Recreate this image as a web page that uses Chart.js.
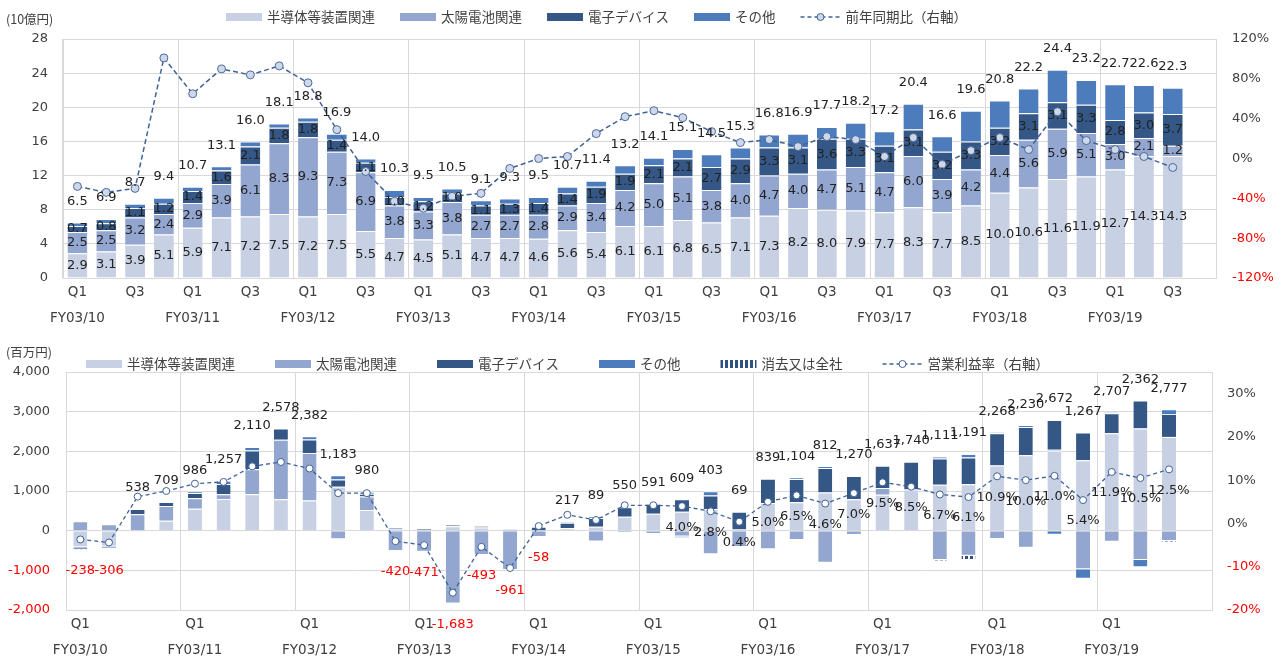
<!DOCTYPE html>
<html>
<head>
<meta charset="utf-8">
<script src="https://cdn.jsdelivr.net/npm/chart.js@4.4.1/dist/chart.umd.min.js"></script>
<style>
  body { margin: 0; background: #fff; }
  #top, #bottom { position: absolute; left: 0; }
  #top { top: 0; }
  #bottom { top: 330px; }
</style>
</head>
<body>
<canvas id="top" width="1285" height="330"></canvas>
<canvas id="bottom" width="1285" height="331"></canvas>
<script>
// 会計年度と四半期（FY03/19 Q4 は空欄）
const fiscalYears = ['FY03/10', 'FY03/11', 'FY03/12', 'FY03/13', 'FY03/14', 'FY03/15', 'FY03/16', 'FY03/17', 'FY03/18', 'FY03/19'];
const quarters = ['Q1', 'Q2', 'Q3', 'Q4'];

// 売上高（10億円）
const semiSales  = [2.9, 3.1, 3.9, 5.1, 5.9, 7.1, 7.2, 7.5, 7.2, 7.5, 5.5, 4.7, 4.5, 5.1, 4.7, 4.7, 4.6, 5.6, 5.4, 6.1, 6.1, 6.8, 6.5, 7.1, 7.3, 8.2, 8.0, 7.9, 7.7, 8.3, 7.7, 8.5, 10.0, 10.6, 11.6, 11.9, 12.7, 14.3, 14.3];
const solarSales = [2.5, 2.5, 3.2, 2.4, 2.9, 3.9, 6.1, 8.3, 9.3, 7.3, 6.9, 3.8, 3.3, 3.8, 2.7, 2.7, 2.8, 2.9, 3.4, 4.2, 5.0, 5.1, 3.8, 4.0, 4.7, 4.0, 4.7, 5.1, 4.7, 6.0, 3.9, 4.2, 4.4, 5.6, 5.9, 5.1, 3.0, 2.1, 1.2];
const elecSales  = [0.7, 0.8, 1.1, 1.2, 1.4, 1.6, 2.1, 1.8, 1.8, 1.4, 1.1, 1.0, 1.2, 1.0, 1.1, 1.3, 1.4, 1.4, 1.9, 1.9, 2.1, 2.1, 2.7, 2.9, 3.3, 3.1, 3.6, 3.3, 3.1, 3.1, 3.2, 3.3, 3.2, 3.1, 3.1, 3.3, 2.8, 3.0, 3.7];
const otherSales = [0.4, 0.5, 0.5, 0.7, 0.5, 0.5, 0.6, 0.5, 0.5, 0.7, 0.5, 0.8, 0.5, 0.6, 0.6, 0.6, 0.7, 0.8, 0.7, 1.0, 0.9, 1.1, 1.5, 1.3, 1.5, 1.6, 1.4, 1.9, 1.7, 3.0, 1.8, 3.6, 3.2, 2.9, 3.8, 2.9, 4.2, 3.2, 3.1];
const totalSales = [6.5, 6.9, 8.7, 9.4, 10.7, 13.1, 16.0, 18.1, 18.8, 16.9, 14.0, 10.3, 9.5, 10.5, 9.1, 9.3, 9.5, 10.7, 11.4, 13.2, 14.1, 15.1, 14.5, 15.3, 16.8, 16.9, 17.7, 18.2, 17.2, 20.4, 16.6, 19.6, 20.8, 22.2, 24.4, 23.2, 22.7, 22.6, 22.3];
const salesYoY   = [-28, -34, -30, 101, 65, 90, 84, 93, 76, 29, -13, -43, -50, -38, -35, -10, 0, 2, 25, 42, 48, 41, 27, 16, 19, 12, 22, 19, 2, 21, -6, 8, 21, 9, 47, 18, 9, 2, -9];

// 営業利益（百万円）
const semiOp  = [-420, -400, 10, 250, 555, 800, 918, 790, 760, 1110, 520, 50, 20, 110, 80, 0, 0, 60, 100, 350, 426, 479, 545, 30, 700, 715, 962, 790, 905, 1040, 1160, 1170, 1643, 1900, 2012, 1777, 2457, 2575, 2364];
const solarOp = [240, 160, 405, 370, 265, 118, 630, 1500, 1200, -217, 340, -510, -531, -1833, -613, -991, -158, 7, -270, -50, -85, -150, -592, -411, -471, -235, -810, -110, 170, 0, -740, -630, -210, -430, 30, -975, -280, -740, -260];
const elecOp  = [-20, -20, 130, 100, 130, 260, 470, 288, 340, 180, 70, 0, 40, 40, 40, 30, 100, 130, 220, 240, 250, 310, 340, 450, 610, 590, 620, 590, 562, 700, 660, 675, 810, 715, 750, 700, 505, 707, 580];
const otherOp = [-30, -40, -7, -11, 36, 79, 92, 0, 82, 110, 50, 40, 0, 0, 0, 0, 0, 20, 39, 10, 0, -30, 110, 0, 0, 34, 40, 0, 0, 0, 50, 85, 25, 45, -100, -235, 25, -180, 118];
const elimOp  = [-8, -6, 0, 0, 0, 0, 0, 0, 0, 0, 0, 0, 0, 0, 0, 0, 0, 0, 0, 0, 0, 0, 0, 0, 0, 0, 0, 0, 0, 0, -19, -109, 0, 0, -20, 0, 0, 0, -25];
const totalOp = [-238, -306, 538, 709, 986, 1257, 2110, 2578, 2382, 1183, 980, -420, -471, -1683, -493, -961, -58, 217, 89, 550, 591, 609, 403, 69, 839, 1104, 812, 1270, 1637, 1740, 1111, 1191, 2268, 2230, 2672, 1267, 2707, 2362, 2777];
const opMargin = [-3.7, -4.4, 6.2, 7.5, 9.2, 9.6, 13.2, 14.2, 12.7, 7.0, 7.0, -4.1, -5.0, -16.0, -5.4, -10.3, -0.6, 2.0, 0.8, 4.2, 4.2, 4.0, 2.8, 0.4, 5.0, 6.5, 4.6, 7.0, 9.5, 8.5, 6.7, 6.1, 10.9, 10.0, 11.0, 5.4, 11.9, 10.5, 12.5];

const categories = [];
fiscalYears.forEach(fy => quarters.forEach(q => categories.push(fy + ' ' + q)));

const C_SEMI = '#c8d0e4', C_SOLAR = '#92a6cf', C_ELEC = '#345786', C_OTHER = '#4c7cbb';
const C_LINE = '#3f6297', GRID = '#d9d9d9', TXT = '#404040', RED = '#ff0000';
const NUM_FONT = 'DejaVu Sans';
const JP_FONT = '"Noto Sans CJK JP", "Noto Sans", sans-serif';

function stripes() {
  const c = document.createElement('canvas');
  c.width = 5; c.height = 4;
  const g = c.getContext('2d');
  g.fillStyle = '#2f5283';
  g.fillRect(0, 0, 3, 4);
  return g.createPattern(c, 'repeat');
}

function drawLegend(chart, startX, cy, gap, unit, unitY) {
  const ctx = chart.ctx;
  ctx.save();
  ctx.textBaseline = 'middle';
  ctx.font = '12.5px ' + JP_FONT;
  ctx.fillStyle = TXT;
  ctx.fillText(unit, 6, unitY);
  ctx.font = '13.5px ' + JP_FONT;
  let x = startX;
  chart.data.datasets.forEach(ds => {
    if (ds.type === 'line') {
      ctx.strokeStyle = ds.borderColor;
      ctx.lineWidth = 1.5;
      ctx.setLineDash([4, 3]);
      ctx.beginPath(); ctx.moveTo(x, cy); ctx.lineTo(x + 40, cy); ctx.stroke();
      ctx.setLineDash([]);
      ctx.beginPath(); ctx.arc(x + 20, cy, 3.5, 0, Math.PI * 2);
      ctx.fillStyle = ds.pointBackgroundColor; ctx.fill();
      ctx.lineWidth = 1; ctx.stroke();
      x += 40;
    } else {
      ctx.fillStyle = ds.backgroundColor;
      ctx.fillRect(x, cy - 4, 36, 8);
      x += 36;
    }
    x += 5;
    ctx.fillStyle = TXT;
    ctx.fillText(ds.label, x, cy);
    x += ctx.measureText(ds.label).width + gap;
  });
  ctx.restore();
}

// 積み上げ棒の上（負なら下）に合計値
function drawTotals(chart, totals, fmt) {
  const ctx = chart.ctx, y = chart.scales.y;
  const bars = chart.data.datasets.map((d, i) => i).filter(i => chart.data.datasets[i].type !== 'line');
  ctx.save();
  ctx.font = '13px ' + NUM_FONT;
  ctx.textAlign = 'center';
  ctx.textBaseline = 'middle';
  totals.forEach((v, i) => {
    let pos = 0, neg = 0;
    bars.forEach(k => {
      const r = chart.data.datasets[k].data[i];
      if (r > 0) pos += r; else neg += r;
    });
    const x = chart.getDatasetMeta(bars[0]).data[i].x;
    if (v >= 0) {
      ctx.fillStyle = '#222';
      ctx.fillText(fmt(v), x, y.getPixelForValue(pos) - 21);
    } else {
      ctx.fillStyle = RED;
      ctx.fillText(fmt(v), x, y.getPixelForValue(neg) + 21);
    }
  });
  ctx.restore();
}

const barBorder = { top: 1, bottom: 1, left: 0, right: 0 };

function xAxis(showQ3, tickPad) {
  return {
    stacked: true,
    grid: { color: c => c.index % 4 === 0 ? GRID : 'rgba(0,0,0,0)', drawTicks: false },
    border: { color: GRID },
    ticks: {
      autoSkip: false, maxRotation: 0, padding: tickPad, color: TXT,
      font: { family: NUM_FONT, size: 13.5, lineHeight: 26 / 13.5 },
      callback: (v, i) => {
        const q = i % 4;
        if (q === 0) return ['Q1', fiscalYears[Math.floor(i / 4)]];
        if (q === 2 && showQ3) return ['Q3', ''];
        return ['', ''];
      }
    }
  };
}

// ---- 上段：売上高 ----
new Chart(document.getElementById('top'), {
  type: 'bar',
  data: {
    labels: categories,
    datasets: [
      { label: '半導体等装置関連', data: semiSales, backgroundColor: C_SEMI },
      { label: '太陽電池関連', data: solarSales, backgroundColor: C_SOLAR },
      { label: '電子デバイス', data: elecSales, backgroundColor: C_ELEC },
      { label: 'その他', data: otherSales, backgroundColor: C_OTHER },
      {
        type: 'line', label: '前年同期比（右軸）', data: salesYoY, yAxisID: 'y1', order: 1,
        borderColor: C_LINE, borderWidth: 1.5, borderDash: [5, 3],
        pointRadius: 4, pointBackgroundColor: '#cfd8ea', pointBorderColor: '#4a6a9c', pointBorderWidth: 1
      }
    ].map(d => d.type ? d : Object.assign(d, {
      order: 2, barPercentage: 0.69, categoryPercentage: 1,
      borderColor: '#fff', borderWidth: barBorder, borderSkipped: 'start'
    }))
  },
  options: {
    responsive: false, animation: false, devicePixelRatio: 1,
    layout: { padding: { top: 39, left: 0, right: 0, bottom: 0 } },
    plugins: { legend: { display: false }, tooltip: { enabled: false } },
    scales: {
      x: Object.assign(xAxis(true, 1.5), { afterFit: s => { s.height = 52; } }),
      y: {
        stacked: true, min: 0, max: 28,
        afterFit: s => { s.width = 63; },
        grid: { color: GRID, drawTicks: false }, border: { color: GRID },
        ticks: { stepSize: 4, padding: 15, color: TXT, font: { family: NUM_FONT, size: 13 } }
      },
      y1: {
        position: 'right', min: -120, max: 120,
        afterFit: s => { s.width = 69; },
        grid: { display: false, drawTicks: false }, border: { color: GRID },
        ticks: {
          stepSize: 40, padding: 16, font: { family: NUM_FONT, size: 13 },
          color: c => c.tick.value < 0 ? RED : TXT,
          callback: v => v + '%'
        }
      }
    }
  },
  plugins: [{
    id: 'topDecor',
    afterDatasetsDraw(chart) {
      const ctx = chart.ctx;
      ctx.save();
      ctx.font = '13px ' + NUM_FONT;
      ctx.fillStyle = '#222';
      ctx.textAlign = 'center';
      ctx.textBaseline = 'middle';
      [0, 1, 2].forEach(k => {
        chart.getDatasetMeta(k).data.forEach((el, i) => {
          ctx.fillText(chart.data.datasets[k].data[i].toFixed(1), el.x, (el.y + el.base) / 2);
        });
      });
      ctx.restore();
      drawTotals(chart, totalSales, v => v.toFixed(1));
    },
    afterDraw(chart) { drawLegend(chart, 226, 17, 25, '(10億円)', 19); }
  }]
});

// ---- 下段：営業利益 ----
new Chart(document.getElementById('bottom'), {
  type: 'bar',
  data: {
    labels: categories,
    datasets: [
      { label: '半導体等装置関連', data: semiOp, backgroundColor: C_SEMI },
      { label: '太陽電池関連', data: solarOp, backgroundColor: C_SOLAR },
      { label: '電子デバイス', data: elecOp, backgroundColor: C_ELEC },
      { label: 'その他', data: otherOp, backgroundColor: C_OTHER },
      { label: '消去又は全社', data: elimOp, backgroundColor: stripes() },
      {
        type: 'line', label: '営業利益率（右軸）', data: opMargin, yAxisID: 'y1', order: 1,
        borderColor: C_LINE, borderWidth: 1.3, borderDash: [4, 3],
        pointRadius: 3.5, pointBackgroundColor: '#ffffff', pointBorderColor: C_LINE, pointBorderWidth: 1
      }
    ].map(d => d.type ? d : Object.assign(d, {
      order: 2, barPercentage: 0.49, categoryPercentage: 1,
      borderColor: '#fff', borderWidth: barBorder, borderSkipped: 'start'
    }))
  },
  options: {
    responsive: false, animation: false, devicePixelRatio: 1,
    layout: { padding: { top: 42, left: 0, right: 0, bottom: 0 } },
    plugins: { legend: { display: false }, tooltip: { enabled: false } },
    scales: {
      x: Object.assign(xAxis(false, 1), { afterFit: s => { s.height = 51; } }),
      y: {
        stacked: true, min: -2000, max: 4000,
        afterFit: s => { s.width = 66; },
        grid: { color: GRID, drawTicks: false }, border: { color: GRID },
        ticks: {
          stepSize: 1000, padding: 16, font: { family: NUM_FONT, size: 13 },
          color: c => c.tick.value < 0 ? RED : TXT,
          callback: v => v.toLocaleString('en-US')
        }
      },
      y1: {
        position: 'right', min: -20, max: 35,
        afterFit: s => { s.width = 73; },
        afterBuildTicks: s => { s.ticks = [-20, -10, 0, 10, 20, 30].map(v => ({ value: v })); },
        grid: { display: false, drawTicks: false }, border: { color: GRID },
        ticks: {
          padding: 15, font: { family: NUM_FONT, size: 13 },
          color: c => c.tick.value < 0 ? RED : TXT,
          callback: v => v + '%'
        }
      }
    }
  },
  plugins: [{
    id: 'bottomDecor',
    afterDatasetsDraw(chart) {
      drawTotals(chart, totalOp, v => v.toLocaleString('en-US'));
      const ctx = chart.ctx;
      const pts = chart.getDatasetMeta(5).data;
      ctx.save();
      ctx.font = '13px ' + NUM_FONT;
      ctx.fillStyle = '#222';
      ctx.textAlign = 'center';
      ctx.textBaseline = 'middle';
      opMargin.forEach((v, i) => {
        if (i < 21) return;
        ctx.fillText(v.toFixed(1) + '%', pts[i].x, pts[i].y + 21);
      });
      ctx.restore();
    },
    afterDraw(chart) { drawLegend(chart, 86, 34, 40, '(百万円)', 22); }
  }]
});
</script>
</body>
</html>
